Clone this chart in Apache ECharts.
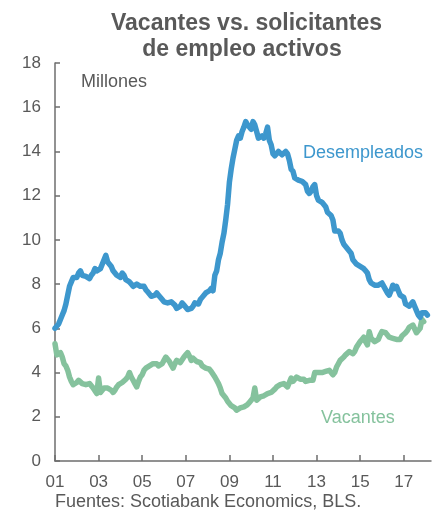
<!DOCTYPE html>
<html>
<head>
<meta charset="utf-8">
<script src="https://cdn.jsdelivr.net/npm/echarts@6/dist/echarts.min.js"></script>
<style>
  html, body { margin: 0; padding: 0; background: #fff; }
  #main { width: 433px; height: 510px; }
</style>
</head>
<body>
<div id="main"></div>
<script>
// datos mensuales, ene 2001 - feb 2018 (millones)
var startYear = 2001;
var nMonths = 208; // eje hasta abr 2018

var desempleados = [
  6.0, 6.1, 6.2, 6.4, 6.6, 6.8, 7.1, 7.5, 7.9, 8.1, 8.3, 8.3,        // 2001
  8.3, 8.5, 8.6, 8.4, 8.4, 8.35, 8.3, 8.25, 8.4, 8.5, 8.7, 8.6,      // 2002
  8.6, 8.7, 8.9, 9.1, 9.3, 9.0, 8.9, 8.8, 8.6, 8.5, 8.4, 8.4,        // 2003
  8.3, 8.5, 8.4, 8.2, 8.2, 8.1, 8.0, 7.9, 7.95, 8.0, 7.95, 7.9,      // 2004
  7.95, 7.9, 7.75, 7.65, 7.6, 7.45, 7.4, 7.5, 7.6, 7.5, 7.55, 7.3,   // 2005
  7.2, 7.2, 7.15, 7.1, 7.2, 7.15, 7.05, 6.9, 6.85, 7.0, 7.15, 7.05,  // 2006
  6.95, 6.85, 6.8, 6.9, 7.0, 7.15, 7.2, 7.1, 7.3, 7.4, 7.45, 7.6,    // 2007
  7.65, 7.7, 7.8, 7.7, 8.4, 8.6, 9.1, 9.4, 9.9, 10.3, 10.9, 11.6,    // 2008
  12.6, 13.2, 13.7, 14.1, 14.5, 14.7, 14.6, 14.9, 15.1, 15.35, 15.2, 15.1, // 2009
  15.0, 15.35, 15.2, 14.9, 14.6, 14.6, 14.7, 14.6, 14.8, 15.1, 14.5, 14.3, // 2010
  13.9, 13.8, 13.9, 14.0, 13.95, 13.85, 13.9, 14.0, 13.9, 13.6, 13.2, 13.1, // 2011
  12.8, 12.75, 12.7, 12.7, 12.65, 12.7, 12.5, 12.2, 12.1, 12.2, 12.4, 12.5, // 2012
  12.0, 11.8, 11.75, 11.7, 11.7, 11.5, 11.25, 11.2, 11.1, 10.9, 10.4, 10.35, // 2013
  10.4, 10.3, 10.0, 9.8, 9.7, 9.6, 9.55, 9.4, 9.1, 9.0, 8.9, 8.85,   // 2014
  8.8, 8.75, 8.7, 8.6, 8.5, 8.2, 8.05, 8.0, 7.95, 7.95, 7.95, 8.0,   // 2015
  8.05, 7.9, 7.75, 7.6, 7.5, 7.7, 7.95, 7.8, 7.9, 7.7, 7.5, 7.5,     // 2016
  7.4, 7.1, 7.05, 7.0, 7.1, 7.2, 7.0, 6.8, 6.6, 6.5, 6.7, 6.75,      // 2017
  6.7, 6.6                                                           // 2018
];

var vacantes = [
  5.3, 4.8, 4.85, 4.9, 4.7, 4.4, 4.3, 4.1, 3.8, 3.6, 3.45, 3.5,      // 2001
  3.55, 3.65, 3.6, 3.5, 3.5, 3.45, 3.45, 3.5, 3.4, 3.3, 3.35, 3.05,  // 2002
  3.75, 3.1, 3.2, 3.3, 3.35, 3.3, 3.3, 3.2, 3.1, 3.2, 3.35, 3.45,    // 2003
  3.45, 3.55, 3.6, 3.7, 3.8, 4.0, 3.8, 3.65, 3.5, 3.35, 3.6, 3.8,    // 2004
  3.9, 4.1, 4.2, 4.25, 4.3, 4.35, 4.4, 4.45, 4.4, 4.3, 4.25, 4.4,    // 2005
  4.55, 4.7, 4.6, 4.5, 4.35, 4.2, 4.4, 4.55, 4.5, 4.45, 4.5, 4.7,    // 2006
  4.8, 4.9, 4.75, 4.55, 4.65, 4.6, 4.5, 4.55, 4.45, 4.3, 4.25, 4.2,  // 2007
  4.2, 4.15, 4.05, 4.0, 3.8, 3.65, 3.5, 3.3, 3.05, 2.95, 2.85, 2.7,  // 2008
  2.6, 2.5, 2.45, 2.4, 2.3, 2.35, 2.4, 2.45, 2.45, 2.4, 2.55, 2.65,  // 2009
  2.75, 2.85, 3.3, 2.75, 2.8, 2.9, 2.9, 2.95, 3.0, 3.05, 3.0, 3.1,   // 2010
  3.1, 3.25, 3.35, 3.3, 3.45, 3.4, 3.5, 3.5, 3.35, 3.3, 3.75, 3.6,   // 2011
  3.7, 3.8, 3.75, 3.7, 3.65, 3.7, 3.6, 3.6, 3.65, 3.7, 3.65, 4.0,    // 2012
  4.05, 4.0, 3.95, 4.0, 4.0, 4.05, 4.0, 4.1, 4.05, 3.9, 4.0, 4.25,   // 2013
  4.4, 4.55, 4.6, 4.7, 4.8, 4.85, 4.95, 4.9, 4.85, 4.95, 5.15, 5.2,  // 2014
  5.4, 5.5, 5.6, 5.4, 5.25, 5.85, 5.55, 5.5, 5.4, 5.35, 5.5, 5.7,    // 2015
  5.85, 5.9, 5.8, 5.7, 5.6, 5.6, 5.55, 5.55, 5.5, 5.45, 5.5, 5.65,   // 2016
  5.7, 5.8, 5.9, 6.05, 6.05, 6.15, 6.1, 5.8, 5.75, 6.0, 6.4, 6.3     // 2017
];

var tickLabels = ['01', '03', '05', '07', '09', '11', '13', '15', '17'];

var months = [];
for (var i = 0; i < nMonths; i++) {
  var y = startYear + Math.floor(i / 12);
  var m = (i % 12) + 1;
  months.push(y + '-' + (m < 10 ? '0' + m : m));
}

var FONT = "'Liberation Sans', Arial, sans-serif";
var GRIS = '#595959';
var AZUL = '#3d97cd';
var VERDE = '#85c29d';

var chart = echarts.init(document.getElementById('main'));
chart.setOption({
  animation: false,
  grid: { left: 55, right: 2, top: 63, bottom: 49 },
  xAxis: {
    type: 'category',
    data: months,
    boundaryGap: false,
    axisLine: { lineStyle: { color: '#6e6e6e', width: 1.5 } },
    axisTick: { inside: true, length: 6, interval: 23, lineStyle: { color: '#6e6e6e', width: 1.5 } },
    axisLabel: {
      interval: 23,
      margin: 13,
      color: GRIS,
      fontSize: 17,
      fontFamily: FONT,
      formatter: function (val, idx) { return tickLabels[idx / 24] || ''; }
    },
    splitLine: { show: false }
  },
  yAxis: {
    type: 'value',
    min: 0,
    max: 18,
    interval: 2,
    axisLine: { show: true, lineStyle: { color: '#6e6e6e', width: 1.5 } },
    axisTick: { show: true, inside: true, length: 5, lineStyle: { color: '#6e6e6e', width: 1.5 } },
    axisLabel: { color: GRIS, fontSize: 17, fontFamily: FONT, margin: 14 },
    splitLine: { show: false }
  },
  series: [
    {
      name: 'Vacantes',
      type: 'line',
      data: vacantes,
      showSymbol: false,
      lineStyle: { color: VERDE, width: 5.5, join: 'round', cap: 'round' },
      z: 2
    },
    {
      name: 'Desempleados',
      type: 'line',
      data: desempleados,
      showSymbol: false,
      lineStyle: { color: AZUL, width: 5.5, join: 'round', cap: 'round' },
      z: 3
    }
  ],
  graphic: [
    { type: 'text', x: 246.5, y: 24, style: { text: 'Vacantes vs. solicitantes', font: 'bold 23px ' + FONT, fill: GRIS, textAlign: 'center', textVerticalAlign: 'middle' } },
    { type: 'text', x: 242, y: 50, style: { text: 'de empleo activos', font: 'bold 23px ' + FONT, fill: GRIS, textAlign: 'center', textVerticalAlign: 'middle' } },
    { type: 'text', x: 81, y: 82, style: { text: 'Millones', font: '18px ' + FONT, fill: GRIS, textAlign: 'left', textVerticalAlign: 'middle' } },
    { type: 'text', x: 303, y: 153, style: { text: 'Desempleados', font: '18px ' + FONT, fill: AZUL, textAlign: 'left', textVerticalAlign: 'middle' } },
    { type: 'text', x: 321, y: 418, style: { text: 'Vacantes', font: '18px ' + FONT, fill: VERDE, textAlign: 'left', textVerticalAlign: 'middle' } },
    { type: 'text', x: 55, y: 502, style: { text: 'Fuentes: Scotiabank Economics, BLS.', font: '18px ' + FONT, fill: GRIS, textAlign: 'left', textVerticalAlign: 'middle' } }
  ]
});
</script>
</body>
</html>
